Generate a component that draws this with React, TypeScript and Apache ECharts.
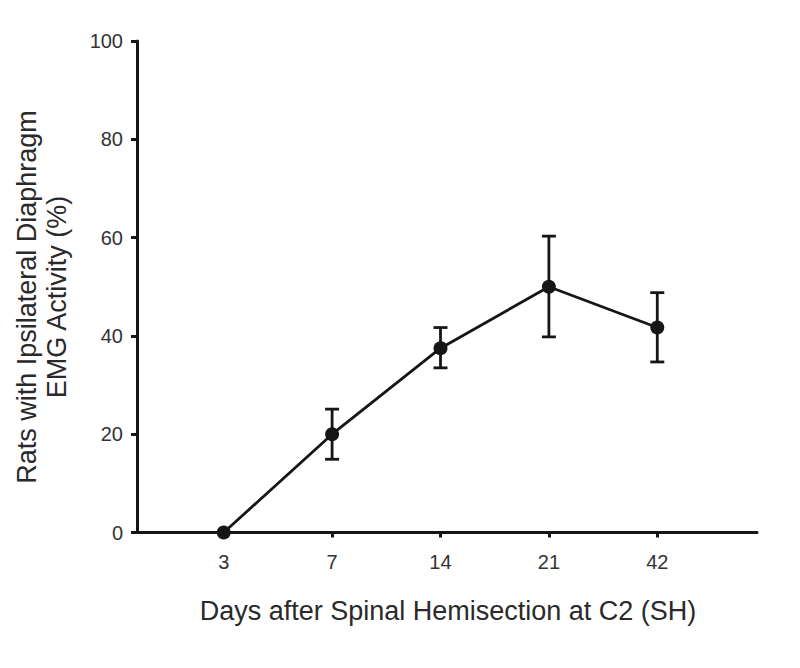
import React, { useEffect, useRef } from "react";
import * as echarts from "echarts";

const dayLabels = ["3", "7", "14", "21", "42"];
const positions = [1, 2, 3, 4, 5];
const meanValues = [0, 20, 37.5, 50, 41.7];
const errLow = [0, 14.9, 33.5, 39.8, 34.7];
const errHigh = [0, 25.1, 41.7, 60.3, 48.8];
const yTicks = [0, 20, 40, 60, 80, 100];

const xName = "Days after Spinal Hemisection at C2 (SH)";
const yName = "Rats with Ipsilateral Diaphragm\nEMG Activity (%)";

const INK = "#161616";
const FONT = "Liberation Sans, Arial, sans-serif";

export default function App() {
  const ref = useRef<HTMLDivElement>(null);
  useEffect(() => {
    if (!ref.current) return;
    const chart = echarts.init(ref.current, null, { renderer: "svg" });
    const lineData = positions.map((p, i) => [p, meanValues[i]]);
    const errData = positions
      .map((p, i) => [p, errLow[i], errHigh[i]])
      .filter((d) => d[2] > d[1]);
    chart.setOption({
      animation: false,
      backgroundColor: "#ffffff",
      grid: { left: 137, right: 43, top: 41, bottom: 135.5, containLabel: false },
      xAxis: {
        type: "value",
        min: 0.2,
        max: 5.92,
        axisLine: { show: true, onZero: false, lineStyle: { color: INK, width: 3 } },
        axisTick: {
          show: true,
          customValues: positions,
          length: 5,
          lineStyle: { color: INK, width: 3 },
        },
        axisLabel: {
          customValues: positions,
          formatter: (v: number) => dayLabels[Math.round(v) - 1] ?? "",
          color: "#333333",
          fontFamily: FONT,
          fontSize: 20,
          margin: 19,
        },
        splitLine: { show: false },
      },
      yAxis: {
        type: "value",
        min: 0,
        max: 100,
        interval: 20,
        axisLine: { show: true, lineStyle: { color: INK, width: 3 } },
        axisTick: { show: true, length: 6, lineStyle: { color: INK, width: 3 } },
        axisLabel: {
          formatter: (v: number) => (yTicks.includes(v) ? String(v) : ""),
          color: "#333333",
          fontFamily: FONT,
          fontSize: 20,
          margin: 14,
        },
        splitLine: { show: false },
      },
      graphic: [
        {
          type: "text",
          x: 448,
          y: 611,
          style: {
            text: xName,
            font: `27px ${FONT}`,
            fill: "#2a2a2a",
            align: "center",
            verticalAlign: "middle",
          },
        },
        {
          type: "text",
          x: 42,
          y: 297,
          rotation: Math.PI / 2,
          style: {
            text: yName,
            font: `27px ${FONT}`,
            fill: "#2a2a2a",
            align: "center",
            verticalAlign: "middle",
            lineHeight: 30,
          },
        },
      ],
      series: [
        {
          type: "custom",
          data: errData,
          clip: false,
          z: 3,
          renderItem: (params: any, api: any) => {
            const x = api.value(0);
            const lo = api.coord([x, api.value(1)]);
            const hi = api.coord([x, api.value(2)]);
            const hw = 7;
            const style = { stroke: INK, lineWidth: 2.8 };
            return {
              type: "group",
              children: [
                { type: "line", shape: { x1: lo[0], y1: lo[1], x2: hi[0], y2: hi[1] }, style },
                { type: "line", shape: { x1: lo[0] - hw, y1: lo[1], x2: lo[0] + hw, y2: lo[1] }, style },
                { type: "line", shape: { x1: hi[0] - hw, y1: hi[1], x2: hi[0] + hw, y2: hi[1] }, style },
              ],
            };
          },
        },
        {
          type: "line",
          data: lineData,
          clip: false,
          z: 4,
          symbol: "circle",
          symbolSize: 14,
          lineStyle: { color: INK, width: 2.8 },
          itemStyle: { color: INK },
        },
      ],
    });
    return () => chart.dispose();
  }, []);
  return <div ref={ref} style={{ width: 800, height: 668, position: "absolute", left: 0, top: 0 }} />;
}
